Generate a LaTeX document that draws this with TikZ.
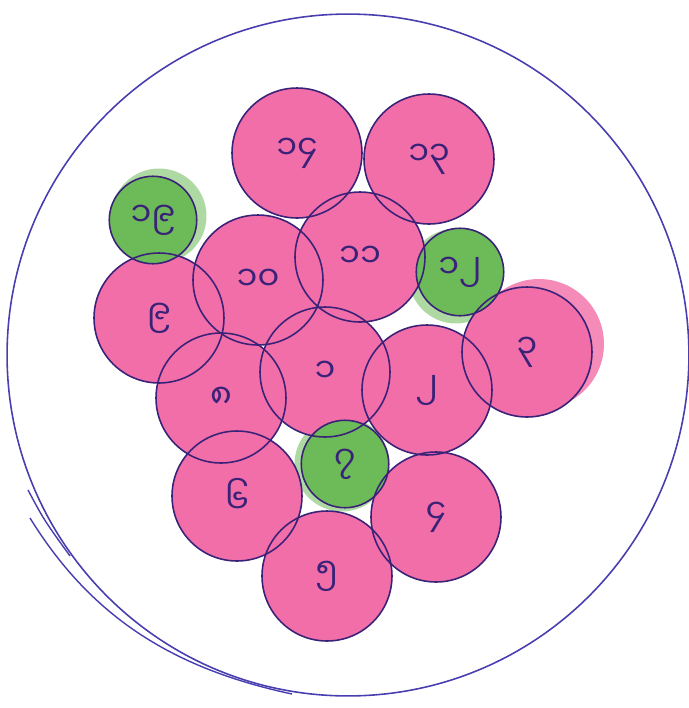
\documentclass[tikz,border=0pt]{standalone}
\usepackage{fontspec}
\newfontfamily\mya[Script=Myanmar]{Noto Sans Myanmar UI}
\usepackage{tikz}
\usetikzlibrary{backgrounds}
\definecolor{penline}{RGB}{58,34,120}
\definecolor{rimblue}{RGB}{72,62,175}
\definecolor{pinkfill}{RGB}{242,110,168}
\definecolor{greenfill}{RGB}{108,186,88}

\begin{document}
\begin{tikzpicture}[x=0.02cm, y=-0.02cm,
    ball/.style={circle, draw=penline, line width=0.9pt, minimum size=2.6cm, inner sep=0pt,
        text=penline, font=\mya\fontsize{19}{19}\selectfont},
    seed/.style={ball, minimum size=1.75cm}]
\useasboundingbox (0,0) rectangle (689,708);
% plate
\node[circle, draw=rimblue, line width=0.9pt, minimum size=13.64cm, inner sep=0pt] (plate) at (348,355) {};
\draw[rimblue, line width=0.8pt] (28,490) .. controls (44,520) .. (70,556);
\draw[rimblue, line width=0.8pt] (30,518) .. controls (90,615) and (170,668) .. (292,694);
% inner ring
\node[ball] (n1) at (325,372) {၁};
\node[ball] (n2) at (427,390) {၂};
\node[ball] (n3) at (527,352) {၃};
\node[ball] (n4) at (436,517) {၄};
\node[ball] (n5) at (327,576) {၅};
\node[ball] (n6) at (237,496) {၆};
\node[seed] (n7) at (345,464) {၇};
\node[ball] (n8) at (221,398) {၈};
\node[ball] (n9) at (159,318) {၉};
% outer ring
\node[ball] (n10) at (258,280) {၁၀};
\node[ball] (n11) at (360,257) {၁၁};
\node[seed] (n12) at (460,272) {၁၂};
\node[ball] (n13) at (429,159) {၁၃};
\node[ball] (n14) at (297,153) {၁၄};
\node[seed] (n19) at (153,220) {၁၉};
% colouring
\begin{scope}[on background layer]
    \fill[greenfill!55] ([shift={(6,-4)}]n19.center) circle[radius=0.95cm];
    \fill[greenfill!55] ([shift={(-4,4)}]n12.center) circle[radius=0.95cm];
    \fill[greenfill!55] ([shift={(-3,0)}]n7.center) circle[radius=0.95cm];
    \fill[pinkfill!80] ([shift={(12,-8)}]n3.center) circle[radius=1.3cm];
    \foreach \n in {n1,n2,n3,n4,n5,n6,n8,n9,n10,n11,n13,n14}
        \fill[pinkfill] (\n.center) circle[radius=1.3cm];
    \foreach \n in {n7,n12,n19}
        \fill[greenfill] (\n.center) circle[radius=0.88cm];
\end{scope}
\end{tikzpicture}
\end{document}
